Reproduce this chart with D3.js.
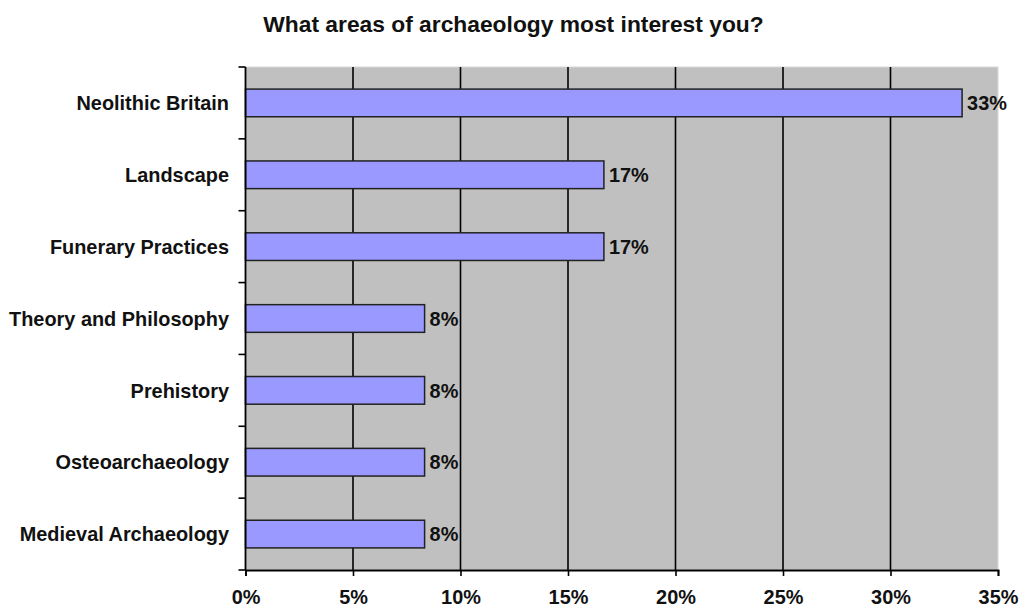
<!DOCTYPE html>
<html>
<head>
<meta charset="utf-8">
<script src="https://cdn.jsdelivr.net/npm/d3@7"></script>
<style>
  html, body { margin: 0; padding: 0; background: #ffffff; }
  svg { display: block; }
  text { font-family: "Liberation Sans", Arial, sans-serif; fill: #111; }
</style>
</head>
<body>
<svg id="chart" width="1019" height="607"></svg>
<script>
// Survey responses, share of respondents (percent)
const categories = [
  "Neolithic Britain",
  "Landscape",
  "Funerary Practices",
  "Theory and Philosophy",
  "Prehistory",
  "Osteoarchaeology",
  "Medieval Archaeology"
];
const values = [33.33, 16.67, 16.67, 8.33, 8.33, 8.33, 8.33];
const xTicks = [0, 5, 10, 15, 20, 25, 30, 35];
const title = "What areas of archaeology most interest you?";

const svg = d3.select("#chart");
const W = 1019, H = 607;
const m = { top: 67, right: 21, bottom: 37, left: 245.5 };
const pw = W - m.left - m.right;
const ph = H - m.top - m.bottom;

const x = d3.scaleLinear().domain([0, 35]).range([0, pw]);
const y = d3.scaleBand().domain(categories).range([0, ph])
  .paddingInner(0.615).paddingOuter(0.3075);

const fmt = v => d3.format(".0f")(v) + "%";
const labelSize = "19.9px";

// title
svg.append("text")
  .attr("x", 513.5).attr("y", 31.5)
  .attr("text-anchor", "middle")
  .style("font-size", "22.8px").style("font-weight", "bold")
  .text(title);

const g = svg.append("g").attr("transform", `translate(${m.left},${m.top})`);

// plot background
g.append("rect")
  .attr("x", 0).attr("y", 0).attr("width", pw).attr("height", ph)
  .attr("fill", "#c0c0c0")
  .attr("stroke", "#d8d8d8").attr("stroke-width", 1);

// vertical gridlines
g.append("g").selectAll("line")
  .data(xTicks.filter(t => t > 0 && t < 35))
  .join("line")
  .attr("x1", d => x(d)).attr("x2", d => x(d))
  .attr("y1", 0).attr("y2", ph)
  .attr("stroke", "#000").attr("stroke-width", 1.6);

// bars
g.append("g").selectAll("rect")
  .data(categories.map((c, i) => ({ c, v: values[i] })))
  .join("rect")
  .attr("x", 0)
  .attr("y", d => y(d.c))
  .attr("width", d => x(d.v))
  .attr("height", y.bandwidth())
  .attr("fill", "#9999ff")
  .attr("stroke", "#222").attr("stroke-width", 1.5);

// value labels
g.append("g").selectAll("text")
  .data(categories.map((c, i) => ({ c, v: values[i] })))
  .join("text")
  .attr("x", d => x(d.v) + 5)
  .attr("y", d => y(d.c) + y.bandwidth() / 2)
  .attr("dy", "0.36em")
  .style("font-size", labelSize).style("font-weight", "bold")
  .text(d => fmt(d.v));

// x axis
const xAxis = g.append("g")
  .attr("transform", `translate(0,${ph})`)
  .call(d3.axisBottom(x).tickValues(xTicks).tickFormat(fmt).tickSize(6).tickPadding(14));
xAxis.select(".domain").attr("stroke", "#000").attr("stroke-width", 1.8);
xAxis.selectAll(".tick line").attr("stroke", "#000").attr("stroke-width", 1.6);
xAxis.selectAll(".tick text")
  .style("font-size", labelSize).style("font-weight", "bold")
  .style("font-family", "'Liberation Sans', Arial, sans-serif")
  .attr("fill", "#111");

// y axis: category labels centred on bands, ticks at band boundaries
const step = y.step();
const yAxis = g.append("g");
yAxis.append("line")
  .attr("x1", 0).attr("x2", 0).attr("y1", 0).attr("y2", ph)
  .attr("stroke", "#000").attr("stroke-width", 1.8);
yAxis.selectAll("line.tk")
  .data(d3.range(categories.length + 1))
  .join("line").attr("class", "tk")
  .attr("x1", -7).attr("x2", 0)
  .attr("y1", i => i * step).attr("y2", i => i * step)
  .attr("stroke", "#000").attr("stroke-width", 1.6);
yAxis.selectAll("text")
  .data(categories)
  .join("text")
  .attr("x", -16.5)
  .attr("y", d => y(d) + y.bandwidth() / 2)
  .attr("dy", "0.36em")
  .attr("text-anchor", "end")
  .style("font-size", labelSize).style("font-weight", "bold")
  .text(d => d);
</script>
</body>
</html>
